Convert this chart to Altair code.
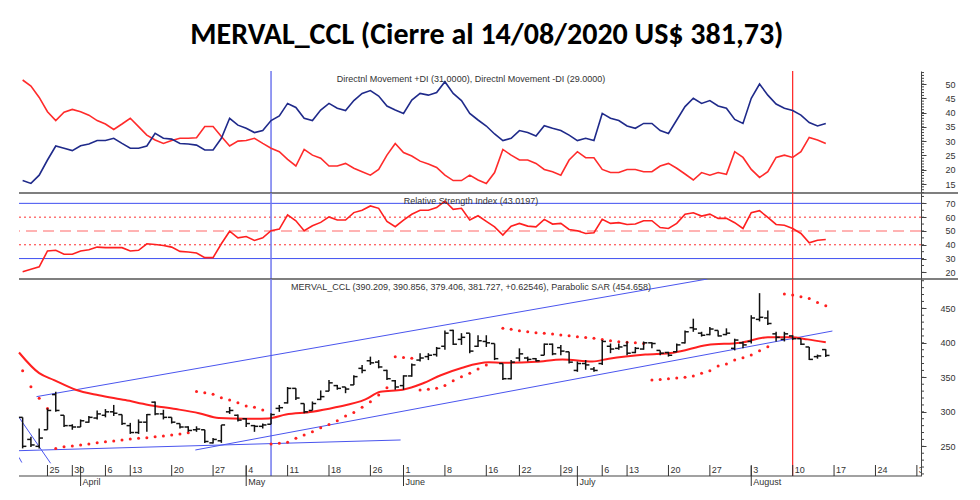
import altair as alt
import pandas as pd

# ---------------- data ----------------
dates = ["03-18","03-19","03-20","03-25","03-26","03-27","03-30","04-01","04-02","04-03",
         "04-06","04-07","04-08","04-13","04-14","04-15","04-16","04-17","04-20","04-21",
         "04-22","04-23","04-24","04-27","04-28","04-29","04-30","05-04","05-05","05-06",
         "05-07","05-08","05-11","05-12","05-13","05-14","05-15","05-18","05-19","05-20",
         "05-21","05-22","05-26","05-27","05-28","05-29","06-01","06-02","06-03","06-04",
         "06-05","06-08","06-09","06-10","06-11","06-12","06-16","06-17","06-18","06-19",
         "06-22","06-23","06-24","06-25","06-26","06-29","06-30","07-01","07-02","07-03",
         "07-06","07-07","07-08","07-13","07-14","07-15","07-16","07-17","07-20","07-21",
         "07-22","07-23","07-24","07-27","07-28","07-29","07-30","07-31","08-03","08-04",
         "08-05","08-06","08-07","08-10","08-11","08-12","08-13","08-14"]

opens = [292,260,250,274,325,295,280,278,285,291,295,300,296,280,270,285,314,297,292,283,
         278,274,274,255,258,300,295,290,280,279,282,305,313,334,312,302,318,330,338,336,
         339,363,374,372,360,345,338,352,375,380,383,395,418,405,414,395,402,399,370,348,
         378,378,377,382,398,393,387,360,370,362,370,395,392,396,386,391,400,389,386,387,
         400,422,414,412,418,412,392,400,402,434,436,413,405,410,406,394,380,390.209]
highs = [292,264,276,305,329,295,282,289,294,302,304,310,296,284,289,297,315,303,292,283,
         279,279,274,262,281,307,296,291,281,283,298,310,336,334,312,315,331,346,339,336,
         353,368,380,375,361,346,353,370,385,385,394,418,419,414,414,411,411,399,370,375,
         392,380,378,399,399,397,387,373,375,365,404,399,399,402,394,402,401,389,387,399,
         418,435,416,423,418,421,406,402,440,472,447,416,416,411,406,394,383,390.856]
lows = [247,249,247,274,300,278,274,278,284,289,292,294,281,268,268,271,295,289,283,276,
        271,271,255,254,255,297,286,278,271,276,282,300,312,317,298,302,317,330,332,327,
        339,356,368,363,346,332,332,351,373,375,380,390,397,397,385,394,394,375,346,347,
        373,373,373,382,382,382,370,358,361,358,368,385,390,382,385,390,392,382,380,387,
        399,416,409,411,409,411,389,392,399,431,426,402,402,404,397,375,377,379.406]
closes = [250,252,262,302,302,280,278,287,292,297,300,298,283,270,285,296,297,292,285,278,
          273,275,257,260,281,302,288,283,279,281,296,306,334,320,300,312,322,342,334,333,
          351,360,371,365,348,336,352,368,378,382,392,414,398,408,388,403,400,377,348,372,
          384,376,374,398,384,388,372,370,368,360,402,391,394,385,392,400,399,385,382,397,
          416,420,411,420,410,414,404,397,436,437,428,408,413,406,398,376,381,381.727]

# Parabolic SAR (None where no dot is visible)
sar = [359.7,336.5,319.6,305,
       247,249.5,250.5,252,253.4,255.3,256.8,257.8,259.2,260.7,261.6,262.6,264,265,266.5,268,269.8,
       329.3,327.8,325.4,320.5,317,313.2,308.4,306.5,302.6,
       253.3,254.3,255.8,261.6,266.4,271.2,277,281.8,287.2,293.9,299.2,306.5,314.7,324.3,335,
       379.9,378.9,377.5,
       331.7,332.6,334,338,345,351,356,362,368,None,
       421,419.5,417.6,416,414.7,413.7,412.7,411.3,410.3,408.9,407.9,406.5,405,403,401.6,400.7,400.2,399.2,
       346,347,348,349,350,352,355.8,359.6,366.4,369.3,375.1,378.5,382.3,388.6,394.4,None,
       470.7,469.3,466.9,464.4,458.6,453.8]

# moving average (red line), read at points
ma_i = [-0.44,2,3.8,6.4,9.2,12.4,15.2,18.5,21.3,23.7,26.9,29.7,31.8,35,37.8,41.4,43.2,45.9,48.3,50.5,
        53.1,56.3,58,62,65.2,68.8,70.8,75.2,78.6,82.7,86.7,90,92.8,94.8,97]
ma_v = [386,356,346,332,324,317,310,304,298,291,290,290.5,296,300,306.5,318,329,332,341,353,
        364,371.7,371,372.6,376,373,377,383,385.7,396.8,400.2,408,408,405,400.7]

di_plus = [16.2,15.2,18.1,23.4,28.3,27.5,26.7,28.4,29,30.2,30.2,31,29.2,27.5,27.5,28.3,32.7,31,30.7,29.2,
           29,28.6,26.9,26.9,31,38,35.6,34.5,33,33.7,37.2,38.8,43.2,41.8,38,37.2,40.9,43.2,
           41.5,40.7,44.2,46.7,47.7,45.8,42.3,40.9,39.7,44.4,46.7,46.1,47,50.8,46.7,44.2,39.7,37.4,35.3,32.5,
           30.2,31,33.7,33,31.8,35.4,34.5,33.7,32.1,30.2,31,30.2,39.7,38,37.2,35.3,34.5,36.2,36.2,
           33.7,32.7,37.4,42.1,45,43.2,44.2,42.3,41.5,37.6,36.2,45,50,46.1,43,41.5,40.7,39.1,36.5,35.3,36.2]
di_minus = [51.4,49.3,45.3,40.3,37.2,40.1,41.1,40.3,39.1,37.2,36,34.1,36,38,35.1,32.1,30.4,29.2,30.2,31,
            31,31.2,35.1,35.1,31.6,28.3,30,30.2,31,29.2,27.5,26.3,23.6,21.3,27.1,25.1,24,21.3,
            21.3,22.2,20.5,19.3,18.1,20.1,25.1,29.2,26,24.8,23,22,20.8,18.1,16.2,16.2,18.1,16.4,15.2,19,
            27.1,25.1,23.4,23.4,22.2,20.1,19.3,18.1,23.4,26.3,24.2,24.2,20.1,19,19,20.1,20.1,19.3,19.3,
            21.3,22.2,20.5,18.5,16.4,19,18.1,19,18.4,26.3,24.3,20.1,17.3,19.3,24.3,25.1,24.3,26.3,31.3,30.4,29.2]
rsi = [20.5,22.2,24,35.5,36,33.1,33.1,35.5,36.4,38.3,37.9,37.9,37.9,35.5,36,40.7,40.2,39.5,38.3,35.2,
       34.8,34,30.7,30.7,40.7,49.8,45,46,43.1,45,50.2,51.4,61.7,57.4,50.2,53.8,56.2,60.2,57.9,57.9,
       63.3,65,68.1,66.4,56.9,53.1,57.9,62.1,65,65,66.9,71.7,65.7,66.4,57.9,61,57,
       53,47,53.5,55.5,53.5,53,58.4,55,55.5,51.1,50.1,48.2,48.7,58.4,55.5,56,54.7,55,57.4,57.4,
       52.5,51.8,55.5,62.2,63.2,60.8,62.2,59.1,59.1,56,51.8,63.2,64.7,59.8,54.7,54.2,51.8,48.2,41.4,43.3,43.8]

# trend lines drawn on the price panel
trend_seg = ["upper","upper","lower","lower","base","base","diag","diag","diag2","diag2"]
trend_i = [1.67,82.7,20.86,97.8,-0.44,45.65,-0.44,3.38,-0.44,-0.1]
trend_v = [322,492.5,244.7,417.1,243.7,259.2,292,225.4,234,226.5]

# vertical markers
marker_i = [30, 93]
marker_color = ["#7078ee", "#ff2020"]
marker_w = [1.5, 1.2]

# x axis labels (trading-day positions)
tick_pos = [3,6,10,13,18,23,27,32,37,42,46,51,56,60,65,70,73,78,83,88,93,98,103,108]
tick_labels = ["25","30","6","13","20","27","4","11","18","26","1","8","16","22","29",
               "6","13","20","27","3","10","17","24","31"]
month_pos = [7,27,46,67,88]
month_labels = ["April","May","June","July","August"]

title_text = "MERVAL_CCL (Cierre al 14/08/2020 US$ 381,73)"
dmi_text = "Directnl Movement +DI (31.0000), Directnl Movement -DI (29.0000)"
rsi_text = "Relative Strength Index (43.0197)"
price_text = "MERVAL_CCL (390.209, 390.856, 379.406, 381.727, +0.62546), Parabolic SAR (454.658)"

# ---------------- chart ----------------
W = 902
H1, H2, H3 = 122, 86, 197
FONT = "Liberation Sans"
XS = alt.Scale(domain=[-0.44, 108.5], nice=False, zero=False)

n = len(dates)
df = pd.DataFrame({"i": list(range(n)), "date": dates, "open": opens, "high": highs,
                   "low": lows, "close": closes, "plus": di_plus, "minus": di_minus,
                   "rsi": rsi, "sar": sar})
df_sar = df.dropna(subset=["sar"])
df_ma = pd.DataFrame({"i": ma_i, "v": ma_v})
df_tr = pd.DataFrame({"seg": trend_seg, "i": trend_i, "v": trend_v})
df_mk = pd.DataFrame({"i": marker_i, "c": marker_color, "w": marker_w})
df_tick = pd.DataFrame({"i": tick_pos, "t": tick_labels})
df_month = pd.DataFrame({"i": month_pos, "t": month_labels})
one = pd.DataFrame({"a": [0]})


def X(field="i"):
    return alt.X(f"{field}:Q", scale=XS, axis=None)


def yaxis(vals):
    return alt.Axis(orient="right", values=vals, title=None, grid=False, domain=True,
                    domainColor="#444", tickColor="#444", tickSize=5, labelAlign="right",
                    labelPadding=29, labelFontSize=9, labelColor="#333", labelFont=FONT)


def markers():
    return alt.Chart(df_mk).mark_rule().encode(
        x=X(), color=alt.Color("c:N", scale=None), strokeWidth=alt.StrokeWidth("w:Q", scale=None))


def minor(vals, ys, ax):
    return alt.Chart(pd.DataFrame({"v": vals})).mark_rule(color="#444", strokeWidth=1).encode(
        x=alt.value(W), x2=alt.value(W + 3), y=alt.Y("v:Q", scale=ys, axis=ax))


def label(txt):
    return alt.Chart(pd.DataFrame({"t": [txt]})).mark_text(
        fontSize=9, color="#333", font=FONT, baseline="middle").encode(
        x=alt.value(452), y=alt.value(8), text="t:N")


def hline(y):
    return alt.Chart(one).mark_rule(color="#555", strokeWidth=1.5).encode(
        x=alt.value(0), x2=alt.value(W + 37), y=alt.value(y))


# DMI panel
ys1 = alt.Scale(domain=[11.85, 54.55], nice=False, zero=False)
ax1 = yaxis(list(range(15, 55, 5)))
b1 = alt.Chart(df)
dmi = alt.layer(
    minor(list(range(12, 55)), ys1, ax1),
    markers(),
    b1.mark_line(color="#ff2b2b", strokeWidth=1.6).encode(x=X(), y=alt.Y("minus:Q", scale=ys1, axis=ax1)),
    b1.mark_line(color="#1f2a8a", strokeWidth=1.6).encode(x=X(), y=alt.Y("plus:Q", scale=ys1, axis=ax1)),
    label(dmi_text),
    hline(H1),
).properties(width=W, height=H1)

# RSI panel
ys2 = alt.Scale(domain=[15.2, 77.5], nice=False, zero=False)
ax2 = yaxis(list(range(20, 80, 10)))
lv = lambda vals: pd.DataFrame({"v": vals})
rsi_p = alt.layer(
    minor(list(range(20, 76, 5)), ys2, ax2),
    alt.Chart(lv([70, 30])).mark_rule(color="#3f4ff0", strokeWidth=1).encode(y=alt.Y("v:Q", scale=ys2, axis=ax2)),
    alt.Chart(lv([60, 40])).mark_rule(color="#ff3030", strokeWidth=1, strokeDash=[2, 3]).encode(y=alt.Y("v:Q", scale=ys2, axis=ax2)),
    alt.Chart(lv([50])).mark_rule(color="#ff9a9a", strokeWidth=1.5, strokeDash=[11, 6]).encode(y=alt.Y("v:Q", scale=ys2, axis=ax2)),
    markers(),
    alt.Chart(df).mark_line(color="#ff2020", strokeWidth=1.6).encode(x=X(), y=alt.Y("rsi:Q", scale=ys2, axis=ax2)),
    label(rsi_text),
    hline(H2),
).properties(width=W, height=H2)

# Price panel
ys3 = alt.Scale(domain=[207, 492.5], nice=False, zero=False)
ax3 = yaxis([250, 300, 350, 400, 450])
b3 = alt.Chart(df)
price = alt.layer(
    minor(list(range(210, 491, 10)), ys3, ax3),
    markers(),
    alt.Chart(df_tr).mark_line(color="#4a55ee", strokeWidth=1, clip=True).encode(
        x=X(), y=alt.Y("v:Q", scale=ys3, axis=ax3), detail="seg:N"),
    alt.Chart(df_ma).mark_line(color="#ff2020", strokeWidth=2, interpolate="monotone").encode(
        x=X(), y=alt.Y("v:Q", scale=ys3, axis=ax3)),
    alt.Chart(df_sar).mark_circle(color="#ff2020", size=9, opacity=1).encode(
        x=X(), y=alt.Y("sar:Q", scale=ys3, axis=ax3)),
    b3.mark_rule(color="#111", strokeWidth=1.5).encode(
        x=X(), y=alt.Y("low:Q", scale=ys3, axis=ax3), y2="high:Q"),
    b3.transform_calculate(xo="datum.i - 0.45").mark_rule(color="#111", strokeWidth=1.5).encode(
        x=X("xo"), x2="i:Q", y=alt.Y("open:Q", scale=ys3, axis=ax3)),
    b3.transform_calculate(xc="datum.i + 0.45").mark_rule(color="#111", strokeWidth=1.5).encode(
        x=X("i"), x2="xc:Q", y=alt.Y("close:Q", scale=ys3, axis=ax3)),
    label(price_text),
    alt.Chart(one).mark_rule(color="#444", strokeWidth=1.2).encode(
        x=alt.value(0), x2=alt.value(W), y=alt.value(H3)),
    alt.Chart(df_tick).mark_rule(color="#333", strokeWidth=1, clip=True).encode(
        x=X(), y=alt.value(H3 - 11), y2=alt.value(H3)),
    alt.Chart(df_tick).mark_text(fontSize=9, color="#333", font=FONT, align="left",
                                 baseline="bottom", dx=2, clip=True).encode(
        x=X(), y=alt.value(H3 - 1), text="t:N"),
    alt.Chart(df_month).mark_rule(color="#333", strokeWidth=1).encode(
        x=X(), y=alt.value(H3 - 10), y2=alt.value(H3 + 10)),
    alt.Chart(df_month).mark_text(fontSize=9, color="#333", font=FONT, align="left",
                                  baseline="middle", dx=2).encode(
        x=X(), y=alt.value(H3 + 6), text="t:N"),
).properties(width=W, height=H3)

chart = alt.vconcat(dmi, rsi_p, price, spacing=0, bounds="flush").resolve_scale(y="independent").properties(
    title=alt.TitleParams(title_text, anchor="middle", fontSize=30, fontWeight="bold",
                          font="Carlito, Calibri, Lato, sans-serif", color="#000", offset=20),
    padding={"left": 7, "top": 12, "right": 5, "bottom": 2},
).configure_view(stroke=None)

chart.save("out.html", embed_options={"renderer": "svg", "actions": False})
